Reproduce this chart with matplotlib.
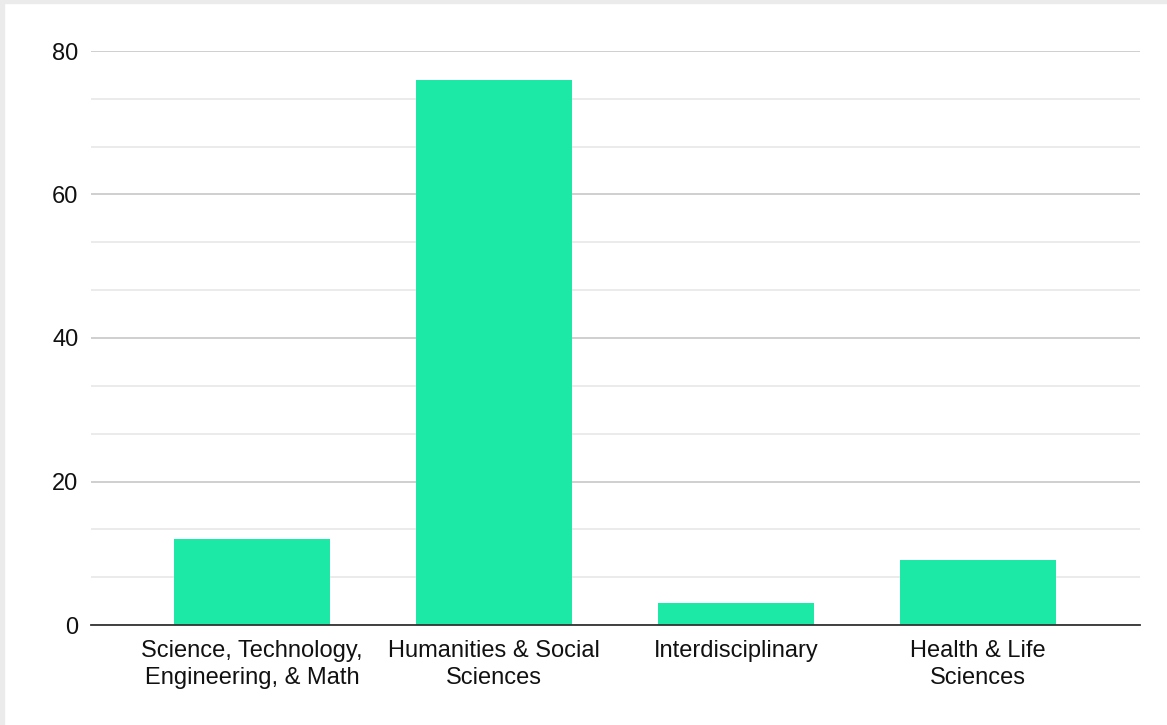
import numpy as np
import matplotlib.pyplot as plt
from matplotlib.patches import Rectangle

plt.rcParams['font.family'] = ['Liberation Sans', 'DejaVu Sans']

categories = ['Science, Technology,\nEngineering, & Math', 'Humanities & Social\nSciences',
              'Interdisciplinary', 'Health & Life\nSciences']
values = [12, 76, 3, 9]

fig = plt.figure(figsize=(11.67, 7.25), dpi=100)
ax = fig.add_axes([91 / 1167, 1 - 625 / 725, (1140 - 91) / 1167, (625 - 51) / 725])

x = np.arange(len(categories))
ax.bar(x, values, width=0.645, color='#1de9a6', zorder=3)

ax.set_xlim(-0.665, len(categories) - 1 + 0.67)
ax.set_ylim(0, 80)
ax.set_yticks([0, 20, 40, 60, 80])
ax.set_yticks(np.arange(0, 80, 20 / 3), minor=True)
ax.grid(axis='y', which='major', color='#cccccc', linewidth=1.3, zorder=0)
ax.grid(axis='y', which='minor', color='#e6e6e6', linewidth=1.1, zorder=0)
ax.tick_params(axis='y', which='both', length=0, pad=9, labelsize=17, labelcolor='#111111')
ax.tick_params(axis='x', length=0, pad=11, labelsize=17, labelcolor='#111111')
ax.set_xticks(x)
ax.set_xticklabels(categories, linespacing=1.27)
for s in ['top', 'right', 'left']:
    ax.spines[s].set_visible(False)
ax.spines['bottom'].set_color('#333333')
ax.spines['bottom'].set_linewidth(1.3)
ax.spines['bottom'].set_zorder(4)

# light frame around the chart
fig.patches.append(Rectangle((0, 0), 4 / 1167, 1, transform=fig.transFigure, color='#ebebeb', zorder=0))
fig.patches.append(Rectangle((0, 1 - 3 / 725), 1, 3 / 725, transform=fig.transFigure, color='#ebebeb', zorder=0))

fig.savefig('out.png', dpi=100)
